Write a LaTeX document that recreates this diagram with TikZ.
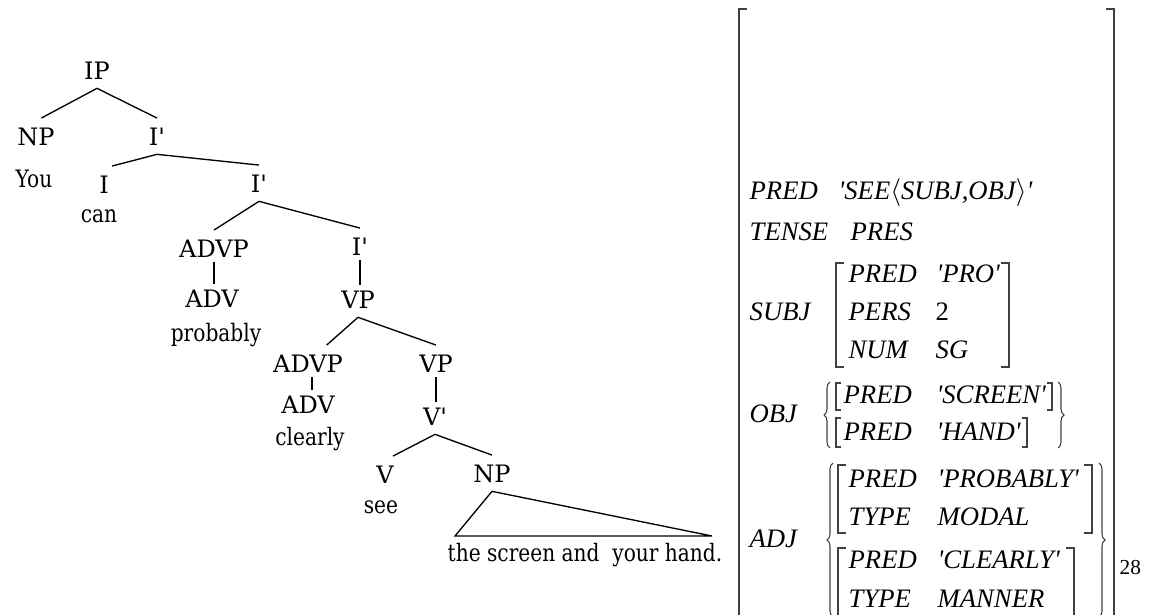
\documentclass[tikz,border=0pt]{standalone}
\usepackage{amsmath}
\usepackage{fontspec}
\newfontfamily\treefont{DejaVu Serif}
\newfontfamily\wordfont[FakeStretch=0.84]{DejaVu Serif}
\newfontfamily\avmfont{Liberation Serif}
\usetikzlibrary{decorations.pathreplacing}
\definecolor{avmgray}{gray}{0.25}

\begin{document}
\begin{tikzpicture}[x=0.75pt, y=-0.75pt, line width=1pt,
  cat/.style={font=\treefont\fontsize{18}{20}\selectfont, anchor=base, inner sep=0pt, outer xsep=0pt, outer ysep=7pt, text height=13.2pt, text depth=0pt},
  word/.style={font=\wordfont\fontsize{18}{20}\selectfont, anchor=base, inner sep=0pt},
  bar/.style={shorten <=-3pt, shorten >=-3pt},
  avm/.style={font=\avmfont\fontsize{20}{24}\selectfont\itshape, anchor=base west, inner sep=0pt},
  avmup/.style={font=\avmfont\fontsize{20}{24}\selectfont, anchor=base west, inner sep=0pt},
  brk/.style={draw=avmgray, line width=1.1pt},
  brc/.style={draw=avmgray, line width=0.8pt, decorate, decoration={brace, amplitude=4.5pt}}]
\useasboundingbox (0,0) rectangle (1151,614);
\clip (0,0) rectangle (1151,614);
% phrase structure tree
\node[cat] (ip) at (97,79) {IP};
\node[cat] (np) at (36,145) {NP};
\node[cat] (ia) at (157,145) {I\textquotesingle};
\node[word] (you) at (34,187) {You};
\node[cat] (i) at (104,193) {I};
\node[cat] (ib) at (259,192) {I\textquotesingle};
\node[word] (can) at (99,222) {can};
\node[cat] (advpa) at (214,257) {ADVP};
\node[cat] (ic) at (360,255) {I\textquotesingle};
\node[cat] (adva) at (212,307) {ADV};
\node[cat] (vpa) at (358,308) {VP};
\node[word] (prob) at (216,341) {probably};
\node[cat] (advpb) at (308,372) {ADVP};
\node[cat] (vpb) at (436,372) {VP};
\node[cat] (advb) at (308,413) {ADV};
\node[cat] (vbar) at (435,425) {V\textquotesingle};
\node[word] (clear) at (310,445) {clearly};
\node[cat] (v) at (385,483) {V};
\node[cat] (npb) at (492,482) {NP};
\node[word] (see) at (381,513) {see};
\node[word] (phrase) at (585,561) {the screen and~ your hand.};
\coordinate (tl) at (455,536);
\coordinate (tr) at (712,536);

\draw (ip.south) -- ([xshift=4pt]np.north);
\draw (ip.south) -- (ia.north);
\draw (ia.south) -- ([xshift=6pt]i.north);
\draw (ia.south) -- (ib.north);
\draw (ib.south) -- (advpa.north);
\draw (ib.south) -- (ic.north);
\draw[bar] (advpa.south) -- (advpa.south |- adva.north);
\draw[bar] (ic.south) -- (ic.south |- vpa.north);
\draw (vpa.south) -- ([xshift=14pt]advpb.north);
\draw (vpa.south) -- (vpb.north);
\draw[bar] ([xshift=3pt]advpb.south) -- ([xshift=3pt]advpb.south |- advb.north);
\draw[bar] (vpb.south) -- (vpb.south |- vbar.north);
\draw (vbar.south) -- ([xshift=6pt]v.north);
\draw (vbar.south) -- (npb.north);
\draw (npb.south) -- (tl) -- (tr) -- cycle;

% f-structure
\draw[brk] (747,9) -- (739,9) -- (739,630);
\draw[brk] (1106,9) -- (1114,9) -- (1114,630);
\node[avm] (pred) at (749,199) {PRED};
\node[avm] (predv) at (838,199) {\textquotesingle SEE$\langle$SUBJ,OBJ$\rangle$\textquotesingle};
\node[avm] (tense) at (749,240) {TENSE};
\node[avm] (tensev) at (850,240) {PRES};

\node[avm] (subj) at (749,320) {SUBJ};
\draw[brk] (844,263) -- (836,263) -- (836,367) -- (844,367);
\draw[brk] (1001,263) -- (1009,263) -- (1009,367) -- (1001,367);
\node[avm] (spred) at (848,282) {PRED};
\node[avm] (spredv) at (936,282) {\textquotesingle PRO\textquotesingle};
\node[avm] (spers) at (848,320) {PERS};
\node[avmup] (spersv) at (935,320) {2};
\node[avm] (snum) at (848,358) {NUM};
\node[avm] (snumv) at (935,358) {SG};

\node[avm] (obj) at (749,422) {OBJ};
\draw[brc] (830,448) -- (830,382);
\draw[brc] (1058,382) -- (1058,448);
\draw[brk] (841,383) -- (836,383) -- (836,410) -- (841,410);
\draw[brk] (1047,383) -- (1052,383) -- (1052,410) -- (1047,410);
\draw[brk] (841,418) -- (836,418) -- (836,447) -- (841,447);
\draw[brk] (1022,418) -- (1027,418) -- (1027,447) -- (1022,447);
\node[avm] (opreda) at (843,403) {PRED};
\node[avm] (opredav) at (936,403) {\textquotesingle SCREEN\textquotesingle};
\node[avm] (opredb) at (843,440) {PRED};
\node[avm] (opredbv) at (936,440) {\textquotesingle HAND\textquotesingle};

\node[avm] (adj) at (749,547) {ADJ};
\draw[brc] (833,617) -- (833,463);
\draw[brc] (1099,463) -- (1099,617);
\draw[brk] (846,465) -- (838,465) -- (838,533) -- (846,533);
\draw[brk] (1084,465) -- (1092,465) -- (1092,533) -- (1084,533);
\draw[brk] (846,548) -- (838,548) -- (838,640);
\draw[brk] (1066,548) -- (1074,548) -- (1074,640);
\node[avm] (apreda) at (848,487) {PRED};
\node[avm] (apredav) at (937,487) {\textquotesingle PROBABLY\textquotesingle};
\node[avm] (atypea) at (848,525) {TYPE};
\node[avm] (atypeav) at (937,525) {MODAL};
\node[avm] (apredb) at (848,568) {PRED};
\node[avm] (apredbv) at (937,568) {\textquotesingle CLEARLY\textquotesingle};
\node[avm] (atypeb) at (848,607) {TYPE};
\node[avm] (atypebv) at (937,607) {MANNER};

\node[avmup, font=\avmfont\fontsize{16}{18}\selectfont] (page) at (1119,574) {28};
\end{tikzpicture}
\end{document}
